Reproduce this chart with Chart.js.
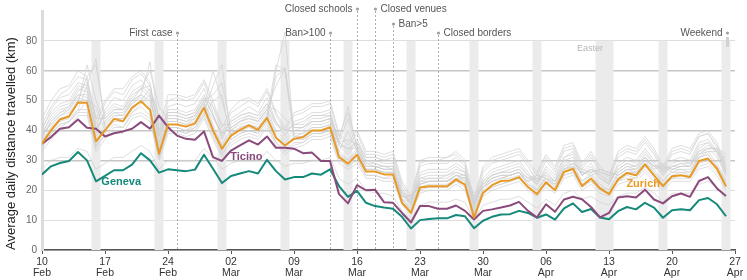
<!DOCTYPE html>
<html>
<head>
<meta charset="utf-8">
<script src="https://cdn.jsdelivr.net/npm/chart.js@4"></script>
<style>
  html, body { margin: 0; padding: 0; background: #fff; }
  #wrap { width: 747px; height: 280px; }
</style>
</head>
<body>
<div id="wrap"><canvas id="chart"></canvas></div>
<script>
// days since 10 Feb 2020 (day 0) up to 27 Apr (day 77); data runs to 26 Apr
const tickLabels = [["10","Feb"],["17","Feb"],["24","Feb"],["02","Mar"],["09","Mar"],["16","Mar"],
                    ["23","Mar"],["30","Mar"],["06","Apr"],["13","Apr"],["20","Apr"],["27","Apr"]];
const yTickLabels = ["0","10","20","30","40","50","60","80"];

const zurich = [35.6,40,43.7,44.7,49.4,49.3,36.4,40,43.9,43.1,47.6,49.8,46.9,32.2,42,42,41.3,42.4,47.6,40,
  33.9,38.3,40.2,41.7,40.2,44.2,37.6,35,37.2,37.8,40,40,41.1,31.1,28.9,31.9,26.3,26.3,25.3,25.3,
  15.8,12.4,20.9,21.3,21.3,21.3,23.6,21.9,10.8,19.1,21.7,23.1,23.3,24.4,21.1,18.7,22.7,20,26.1,27.2,
  21.4,23.9,20.6,18.7,23.6,25.8,25,28.7,25,21.4,24.7,25,24.4,29.8,30.6,27.2,21.3];
const ticino = [35.6,37.8,40.6,41.1,43.7,40.9,40.6,38,39.1,39.7,40.6,42.8,40.6,45,41.1,38.3,37.2,36.9,39.7,31.1,
  29.8,33.3,35,36.7,35.3,38,34.2,34.2,33.9,32.4,32.6,29.8,29.8,18.7,15.6,21.7,20,20.2,16,15.8,
  12.4,9.2,14.7,14.7,13.8,13.8,14.9,13.1,10.2,13.1,13.6,14.2,14.9,16.1,13.1,10.9,15.3,12.8,16.9,17.8,
  17,14.4,10.9,12.4,17.6,18,17.6,20.2,16.9,15.6,18,18.9,17.8,23.1,24.4,20.6,18.1];
const geneva = [25.3,28,29.1,29.8,32.8,30,23,24.8,26.7,26.7,28.6,32.4,30,25.9,27,26.7,26.4,26.9,31.9,27.2,
  22.4,24.8,25.6,26.4,25.6,30.2,26.4,23.6,24.4,24.4,25.6,25.2,27,21.4,17.8,19.8,15.8,14.7,14.2,13.8,
  11.1,7.2,10,10.4,10.6,10.6,11.7,11.3,7.3,9.8,11.1,11.9,12,13.1,12.4,10.8,11.9,10.2,13.9,15.6,
  12.7,13.7,10.9,10.3,13,14.4,13.6,15.8,14.2,10.8,13.3,13.6,13.3,16.7,17.4,15.3,11.3];

// other cantons (grey)
const others = [
  [41,46,49,50,55,54,40,46,49,48,53,55,52,36,47,47,46,47,52,45,38,43,45,46,45,49,42,39,42,42,45,45,46,35,32,36,30,30,29,
   29,19,15,25,26,26,26,28,26,13,23,26,27,28,29,25,22,27,24,31,32,25,28,24,22,28,30,29,33,29,25,29,30,29,35,36,32,25],
  [38,42,45,46,50,58,62,44,47,47,50,54,60,48,44,44,43,45,50,52,56,40,43,44,43,47,55,61,41,41,43,43,44,38,46,35,30,29,28,
   27,17,16,23,24,24,24,26,25,16,22,25,26,26,27,24,24,25,23,28,30,25,27,26,25,26,28,28,31,28,27,28,29,29,33,35,33,29],
  [36,41,44,45,49,62,50,42,45,45,49,52,63,42,43,43,42,44,48,60,50,39,41,42,41,45,62,60,38,39,41,41,42,33,40,33,28,28,27,
   27,18,17,22,23,23,23,25,24,17,21,24,25,25,26,23,25,24,22,27,29,26,26,27,26,25,27,27,30,28,28,27,28,28,32,34,34,30],
  [38,43,46,47,52,52,38,43,46,45,50,52,49,34,45,45,44,45,50,42,35,41,43,44,43,47,40,37,40,40,43,43,44,33,30,34,28,28,27,
   27,17,13,23,23,23,23,25,24,12,21,24,25,25,26,23,20,25,22,28,29,23,26,22,20,26,28,27,31,27,23,27,27,26,32,33,29,23],
  [40,47,51,52,56,55,39,47,51,50,55,57,53,35,48,49,48,49,54,46,37,44,46,48,46,51,43,38,43,44,46,46,47,36,33,37,31,31,30,
   31,21,15,28,29,29,29,31,28,14,26,29,30,31,32,28,23,30,26,33,34,27,31,26,23,31,33,32,36,32,26,32,33,32,38,39,34,26],
  [33,37,40,41,45,45,33,37,40,39,44,45,43,30,39,39,38,39,44,37,31,35,37,38,37,41,35,32,34,35,37,37,38,29,27,29,24,24,23,
   23,15,12,19,20,20,20,22,20,11,18,20,21,22,23,20,18,21,19,24,25,20,22,19,18,22,23,23,26,23,20,23,23,23,27,28,25,20],
  [27,30,31,31,34,33,27,29,31,31,33,35,33,27,30,30,30,30,34,31,27,29,30,31,30,33,30,28,29,29,30,30,31,24,22,24,20,19,19,
   18,13,10,15,16,16,16,17,16,10,15,16,17,17,18,16,14,17,15,19,20,17,18,16,15,18,19,19,21,19,16,19,19,19,22,23,21,17],
  [39,44,47,48,53,56,44,44,47,47,51,54,55,40,46,46,45,46,51,48,42,42,44,45,44,48,47,44,41,41,44,44,45,36,37,35,29,29,28,
   28,18,16,24,25,25,25,27,26,15,23,25,26,27,28,25,23,26,23,30,31,25,27,25,23,27,29,28,32,29,26,28,29,28,34,36,33,27],
  [36,41,44,45,50,50,35,41,44,44,48,50,47,33,43,43,42,43,48,41,33,39,41,42,41,45,38,35,38,38,41,41,42,32,29,33,27,27,26,
   26,17,14,22,23,23,23,25,23,12,20,23,24,25,26,22,20,24,21,27,28,23,25,21,20,25,27,26,30,26,23,26,26,26,31,32,28,22],
  [37,40,43,44,47,55,64,41,44,44,47,50,54,45,41,41,40,42,46,55,62,38,40,41,40,44,58,61,37,37,39,39,40,36,44,33,27,27,26,
   26,18,18,21,22,22,22,24,24,18,21,23,24,24,25,23,24,23,22,26,28,26,25,26,25,24,26,26,29,27,28,26,27,27,31,33,33,31],
  [39,45,48,49,54,53,41,45,48,47,52,54,51,38,46,46,45,46,51,45,39,43,45,46,45,49,43,40,42,43,45,45,45,36,34,36,31,31,30,
   30,20,16,26,27,27,27,29,27,15,24,27,28,29,30,26,22,28,25,31,33,26,29,25,22,29,31,30,34,30,26,30,31,30,36,37,33,26],
  [34,39,42,43,47,47,34,39,42,41,46,48,45,31,41,41,40,41,46,39,32,37,39,40,39,43,36,33,36,36,39,39,40,31,28,31,25,25,24,
   24,16,13,21,21,21,21,23,22,12,19,21,22,23,24,21,19,22,20,25,26,21,23,20,19,23,25,24,28,25,21,24,25,24,29,30,27,21],
  [42,48,52,54,58,57,42,49,53,52,57,59,55,38,50,51,50,51,56,48,39,46,48,50,48,53,45,40,45,46,48,48,49,38,35,39,32,32,31,
   32,22,17,29,30,30,31,32,29,16,27,30,31,32,33,29,25,31,27,34,35,28,32,27,24,32,34,33,37,33,27,33,34,33,38,39,35,27],
  [35,39,42,43,46,50,48,40,43,43,46,49,52,44,40,40,39,41,45,50,52,37,39,40,39,43,60,73,38,37,39,39,41,37,48,34,28,28,27,
   27,19,18,22,23,23,23,25,25,19,22,24,25,25,26,24,25,24,23,27,29,27,26,27,26,25,27,27,30,28,29,27,28,28,32,34,34,32],
  [37,43,46,48,52,51,41,43,46,46,50,52,50,39,45,45,44,45,49,44,39,41,43,45,43,47,42,40,40,41,43,43,44,35,34,34,29,28,28,
   28,19,16,24,24,24,25,26,25,15,22,25,26,26,27,24,22,26,23,29,30,25,27,24,22,27,29,28,31,28,25,28,28,28,33,34,31,25],
  [39,42,45,47,51,50,36,42,45,45,49,51,48,33,44,44,43,44,49,41,34,40,42,43,42,46,39,36,39,39,42,42,43,32,30,33,27,27,26,
   26,17,13,22,23,23,23,24,23,12,21,23,24,25,26,22,20,24,21,27,28,22,25,21,19,24,26,26,29,26,22,25,26,25,31,32,28,22],
  [44,50,54,55,60,58,44,50,54,54,58,60,56,40,52,52,51,52,57,50,41,47,50,51,49,54,46,41,46,47,49,49,50,39,36,40,33,33,32,
   33,23,18,30,31,31,31,33,30,17,28,31,32,33,34,30,26,32,28,35,36,29,33,28,25,33,35,34,38,34,28,34,35,34,39,40,36,28],
  [35,38,41,43,46,46,35,38,41,41,45,46,44,31,40,40,39,40,45,38,32,36,38,39,38,42,36,33,35,36,38,38,39,30,28,30,25,25,24,
   25,16,13,20,21,21,21,23,21,12,19,21,22,23,24,21,19,22,20,25,26,21,23,20,19,23,24,24,27,24,21,24,24,24,28,29,26,21]
];

// weekends (Sundays) and Easter Sunday+Monday, as [firstDay, lastDay]
const weekendBands = [[6,6],[13,13],[20,20],[27,27],[34,34],[41,41],[48,48],[55,55],[62,63],[69,69],[76,76]];

const eventDays  = [15, 32, 35, 37, 39, 44];
const eventNames = ["First case", "Ban>100", "Closed schools", "Closed venues", "Ban>5", "Closed borders"];

const FONT = '"Liberation Sans", Arial, Helvetica, sans-serif';
const toXY = arr => arr.map((v, i) => ({ x: i, y: v }));

const datasets = [
  { label: "Zurich", data: toXY(zurich), borderColor: "#e89a26", borderWidth: 2 },
  { label: "Ticino", data: toXY(ticino), borderColor: "#8a4a7b", borderWidth: 2 },
  { label: "Geneva", data: toXY(geneva), borderColor: "#15897a", borderWidth: 2 }
];
others.forEach((arr, k) => datasets.push({
  label: "canton" + k, data: toXY(arr), borderColor: "#d0d0d0", borderWidth: 0.7
}));

// label row (y pixel) and side for the event annotations
const eventLayout = [
  { y: 33, side: "left" }, { y: 33, side: "left" }, { y: 9, side: "left" },
  { y: 9, side: "right" }, { y: 24, side: "right" }, { y: 33, side: "right" }
];

const annotations = {
  id: "annotations",
  beforeDatasetsDraw(chart) {
    const { ctx, chartArea: a, scales: { x, y } } = chart;
    ctx.save();
    ctx.fillStyle = "#ebebeb";
    const top = y.getPixelForValue(70), bottom = y.getPixelForValue(0);
    weekendBands.forEach(([s, e]) => {
      const x0 = x.getPixelForValue(s - 0.5), x1 = x.getPixelForValue(e + 0.5);
      ctx.fillRect(x0, top, x1 - x0, bottom - top);
    });
    ctx.strokeStyle = "#9a9a9a";
    ctx.lineWidth = 0.8;
    ctx.setLineDash([2, 2]);
    eventDays.forEach((d, i) => {
      const px = Math.round(x.getPixelForValue(d)) + 0.5;
      ctx.beginPath();
      ctx.moveTo(px, eventLayout[i].y + 2);
      ctx.lineTo(px, a.bottom);
      ctx.stroke();
    });
    ctx.restore();
  },
  afterDatasetsDraw(chart) {
    const { ctx, scales: { x, y } } = chart;
    ctx.save();
    ctx.font = "10px " + FONT;
    ctx.textBaseline = "middle";
    eventDays.forEach((d, i) => {
      const px = Math.round(x.getPixelForValue(d)) + 0.5;
      const l = eventLayout[i];
      ctx.fillStyle = "#a0a0a0";
      ctx.beginPath();
      ctx.arc(px, l.y, 1.6, 0, Math.PI * 2);
      ctx.fill();
      ctx.fillStyle = "#555";
      if (l.side === "left") { ctx.textAlign = "right"; ctx.fillText(eventNames[i], px - 5, l.y); }
      else { ctx.textAlign = "left"; ctx.fillText(eventNames[i], px + 5, l.y); }
    });
    // weekend key
    const wx = Math.round(x.getPixelForValue(76)) + 1.5;
    ctx.fillStyle = "#a0a0a0";
    ctx.beginPath(); ctx.arc(wx, 33, 1.6, 0, Math.PI * 2); ctx.fill();
    ctx.fillStyle = "#d2d2d2";
    ctx.fillRect(wx - 1.5, 37, 3, 10);
    ctx.fillStyle = "#555";
    ctx.textAlign = "right";
    ctx.fillText("Weekend", wx - 5, 33);
    // Easter note
    ctx.font = "9px " + FONT;
    ctx.fillStyle = "#b8b8b8";
    ctx.textAlign = "center";
    ctx.fillText("Easter", x.getPixelForValue(60.9), y.getPixelForValue(67.3));
    // series names
    ctx.font = "bold 11px " + FONT;
    const names = [["Ticino", 22.7, 31, "#8a4a7b"], ["Geneva", 8.8, 22.7, "#15897a"], ["Zurich", 66.8, 22, "#e89a26"]];
    names.forEach(([t, d, v, c]) => {
      ctx.fillStyle = c;
      ctx.fillText(t, x.getPixelForValue(d), y.getPixelForValue(v));
    });
    ctx.restore();
  }
};

new Chart(document.getElementById("chart"), {
  type: "line",
  data: { datasets },
  plugins: [annotations],
  options: {
    responsive: true,
    maintainAspectRatio: false,
    animation: false,
    events: [],
    layout: { padding: { top: 9, right: 12, left: 0, bottom: 0 } },
    elements: { point: { radius: 0 }, line: { tension: 0, borderJoinStyle: "round" } },
    plugins: { legend: { display: false }, tooltip: { enabled: false } },
    scales: {
      x: {
        type: "linear", min: 0, max: 77,
        ticks: {
          stepSize: 7, autoSkip: false, maxRotation: 0, padding: 3,
          color: "#333", font: { family: FONT, size: 10.5, lineHeight: 1.05 },
          callback: v => tickLabels[v / 7]
        },
        grid: { drawOnChartArea: false, drawTicks: true, tickLength: 4, color: "#555", lineWidth: 1 },
        border: { color: "#555", width: 1.5 },
        afterFit: s => { s.height = 30; }
      },
      y: {
        min: 0, max: 80,
        afterBuildTicks: s => { s.ticks = s.ticks.filter(t => t.value <= 70); },
        ticks: {
          stepSize: 10, padding: 5, color: "#666",
          font: { family: FONT, size: 10 },
          callback: v => yTickLabels[v / 10]
        },
        grid: {
          drawTicks: false,
          color: c => [30, 40, 60].includes(c.tick.value) ? "#c6c6c6" : "#dedede",
          lineWidth: c => [30, 40, 60].includes(c.tick.value) ? 1.5 : 1
        },
        border: { color: "#dcdcdc", width: 3 },
        title: {
          display: true, text: "Average daily distance travelled (km)", align: "start",
          color: "#222", font: { family: FONT, size: 13 }, padding: { top: 4, bottom: 0 }
        },
        afterFit: s => { s.width = 42; }
      }
    }
  }
});
</script>
</body>
</html>
